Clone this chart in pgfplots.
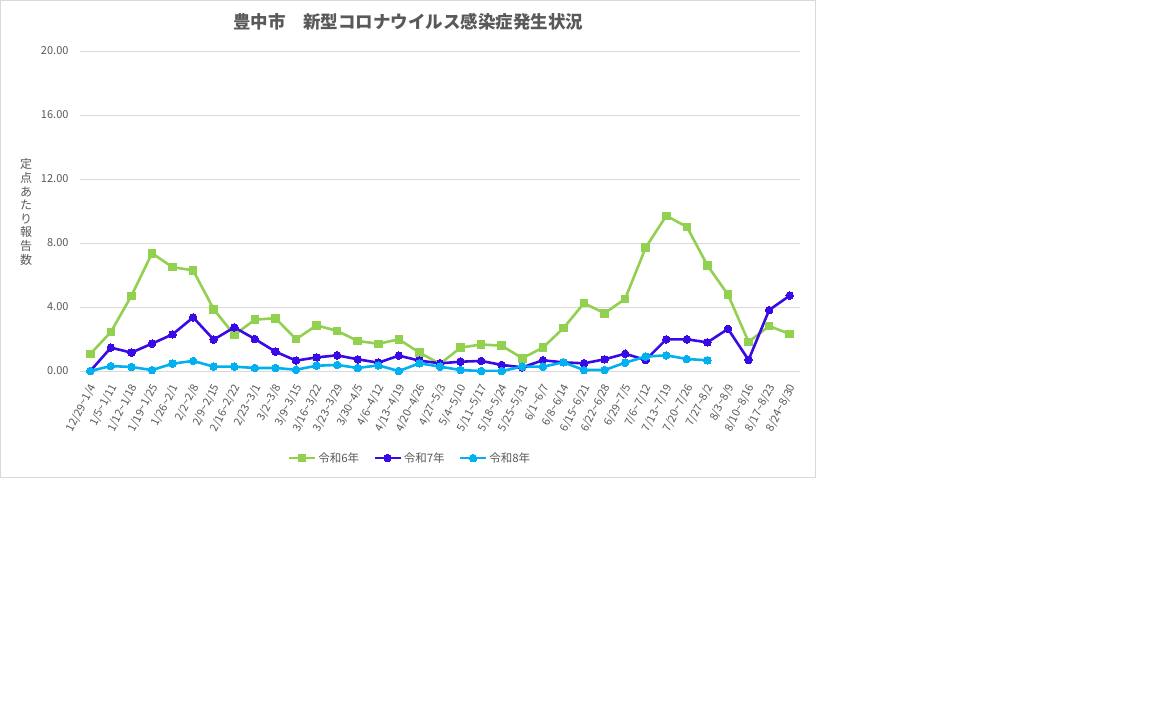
\documentclass[border=0pt]{standalone}
\usepackage{fontspec}
\usepackage{pgfplots}
\pgfplotsset{compat=1.18}
\setmainfont{Noto Sans CJK JP}
\definecolor{txt}{HTML}{595959}
\definecolor{gridc}{HTML}{D9D9D9}
\definecolor{r6}{HTML}{92D050}
\definecolor{r7}{HTML}{3A0AE6}
\definecolor{r8}{HTML}{00B0F0}
\newcommand{\w}{\textasciitilde}

\begin{document}
\begin{tikzpicture}
% page and chart frame (1px = 1pt)
\path[fill=white] (0,0) rectangle (1152pt,-720pt);
\draw[gridc, line width=0.8pt] (0.5pt,-0.5pt) rectangle (815pt,-477pt);

\node[font=\fontsize{17.5}{20}\selectfont\bfseries, text=txt] at (408pt,-22pt)
  {豊中市　新型コロナウイルス感染症発生状況};
\node[font=\fontsize{12}{13.6}\selectfont, text=txt, align=center] at (26pt,-212pt)
  {定\\点\\あ\\た\\り\\報\\告\\数};

\begin{axis}[
  at={(80pt,-371pt)}, anchor=south west,
  scale only axis, width=720pt, height=320pt,
  xmin=-0.5, xmax=34.5, ymin=0, ymax=20,
  axis line style={draw=none},
  major tick length=0pt,
  ytick={0,4,...,20},
  ymajorgrids, grid style={gridc, line width=0.8pt},
  yticklabel style={font=\fontsize{11}{12}\selectfont, text=txt, xshift=-8pt,
    /pgf/number format/.cd, fixed, fixed zerofill, precision=2, assume math mode=true},
  xtick={0,...,34},
  xticklabels={12/29\w 1/4, 1/5\w 1/11, 1/12\w 1/18, 1/19\w 1/25, 1/26\w 2/1,
    2/2\w 2/8, 2/9\w 2/15, 2/16\w 2/22, 2/23\w 3/1, 3/2\w 3/8, 3/9\w 3/15,
    3/16\w 3/22, 3/23\w 3/29, 3/30\w 4/5, 4/6\w 4/12, 4/13\w 4/19, 4/20\w 4/26,
    4/27\w 5/3, 5/4\w 5/10, 5/11\w 5/17, 5/18\w 5/24, 5/25\w 5/31, 6/1\w 6/7,
    6/8\w 6/14, 6/15\w 6/21, 6/22\w 6/28, 6/29\w 7/5, 7/6\w 7/12, 7/13\w 7/19,
    7/20\w 7/26, 7/27\w 8/2, 8/3\w 8/9, 8/10\w 8/16, 8/17\w 8/23, 8/24\w 8/30},
  xticklabel style={font=\fontsize{11}{12}\selectfont, text=txt, rotate=63,
    anchor=east, inner sep=1pt, xshift=-10pt, yshift=-9pt},
  legend columns=-1,
  legend style={at={(0.4583,-0.272)}, anchor=center, draw=none, fill=none,
    font=\fontsize{11.5}{12}\selectfont, text=txt,
    /tikz/every even column/.append style={column sep=12pt}},
  legend image code/.code={\draw[#1, mark repeat=2, mark phase=2]
    plot coordinates {(0pt,0pt) (13pt,0pt) (26pt,0pt)};},
  every axis plot/.append style={line width=2.6pt},
]
% 令和6年
\addplot[r6, mark=square*, mark size=3.8pt, mark options={solid, line width=0pt}] coordinates {
 (0,1.06) (1,2.44) (2,4.70) (3,7.36) (4,6.49) (5,6.29) (6,3.86) (7,2.25)
 (8,3.21) (9,3.30) (10,1.99) (11,2.85) (12,2.51) (13,1.88) (14,1.70) (15,1.98)
 (16,1.15) (17,0.45) (18,1.46) (19,1.66) (20,1.58) (21,0.80) (22,1.46) (23,2.68)
 (24,4.24) (25,3.61) (26,4.51) (27,7.72) (28,9.70) (29,9.01) (30,6.60) (31,4.77)
 (32,1.82) (33,2.81) (34,2.31)};
% 令和7年
\addplot[r7, mark=*, mark size=3.8pt, mark options={solid, line width=0pt}] coordinates {
 (0,0.00) (1,1.46) (2,1.15) (3,1.71) (4,2.29) (5,3.35) (6,1.96) (7,2.73)
 (8,2.00) (9,1.21) (10,0.65) (11,0.85) (12,0.98) (13,0.73) (14,0.52) (15,0.96)
 (16,0.65) (17,0.48) (18,0.58) (19,0.63) (20,0.38) (21,0.23) (22,0.67) (23,0.54)
 (24,0.48) (25,0.73) (26,1.08) (27,0.69) (28,1.98) (29,1.98) (30,1.79) (31,2.63)
 (32,0.69) (33,3.81) (34,4.71)};
% 令和8年
\addplot[r8, mark=*, mark size=3.8pt, mark options={solid, line width=0pt}] coordinates {
 (0,0.00) (1,0.31) (2,0.25) (3,0.06) (4,0.46) (5,0.63) (6,0.27) (7,0.27)
 (8,0.19) (9,0.19) (10,0.08) (11,0.33) (12,0.38) (13,0.19) (14,0.35) (15,0.00)
 (16,0.48) (17,0.27) (18,0.06) (19,0.00) (20,0.00) (21,0.27) (22,0.27) (23,0.54)
 (24,0.06) (25,0.06) (26,0.52) (27,0.90) (28,0.98) (29,0.75) (30,0.67)};
\legend{令和6年, 令和7年, 令和8年}
\end{axis}
\end{tikzpicture}
\end{document}
